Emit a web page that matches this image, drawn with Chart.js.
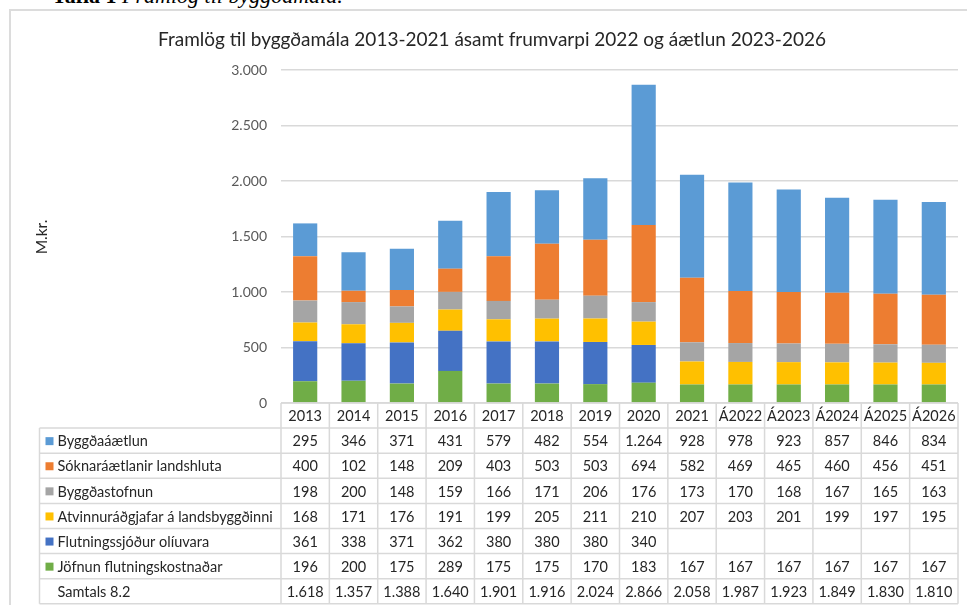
<!DOCTYPE html>
<html lang="is">
<head>
<meta charset="utf-8">
<title>Framlög til byggðamála</title>
<script src="https://cdn.jsdelivr.net/npm/chart.js@4.4.1/dist/chart.umd.min.js"></script>
<style>
    html, body { margin: 0; padding: 0; background: #fff; overflow: hidden; }
    #wrap { position: relative; width: 967px; height: 605px; }
    #caption {
        position: absolute; left: 52px; top: -15px;
        font-family: "Liberation Serif", serif; font-size: 22px; line-height: 22px;
        color: #000; white-space: nowrap;
    }
    #caption b { font-weight: bold; }
    #caption i { font-style: italic; }
    #frame {
        position: absolute; left: 9px; top: 9px; right: -10px; bottom: -10px;
        border: 2px solid #dcdcdc;
    }
    #myChart { position: absolute; left: 0; top: 0; }
</style>
</head>
<body>
<div id="wrap">
    <div id="caption"><b>Tafla 1</b> <i>Framlög til byggðamála.</i></div>
    <div id="frame"></div>
    <canvas id="myChart" width="967" height="605"></canvas>
</div>
<script>
// gögn lesin af myndinni
const categories = ['2013', '2014', '2015', '2016', '2017', '2018', '2019', '2020', '2021', 'Á2022', 'Á2023', 'Á2024', 'Á2025', 'Á2026'];
const byggdaaaetlun = [295, 346, 371, 431, 579, 482, 554, 1264, 928, 978, 923, 857, 846, 834];
const soknaraaetlanir = [400, 102, 148, 209, 403, 503, 503, 694, 582, 469, 465, 460, 456, 451];
const byggdastofnun = [198, 200, 148, 159, 166, 171, 206, 176, 173, 170, 168, 167, 165, 163];
const atvinnuradgjafar = [168, 171, 176, 191, 199, 205, 211, 210, 207, 203, 201, 199, 197, 195];
const flutningssjodur = [361, 338, 371, 362, 380, 380, 380, 340, null, null, null, null, null, null];
const jofnun = [196, 200, 175, 289, 175, 175, 170, 183, 167, 167, 167, 167, 167, 167];
const samtals = [1618, 1357, 1388, 1640, 1901, 1916, 2024, 2866, 2058, 1987, 1923, 1849, 1830, 1810];
const yTicks = [0, 500, 1000, 1500, 2000, 2500, 3000];

const chartTitle = 'Framlög til byggðamála 2013-2021 ásamt frumvarpi 2022 og áætlun 2023-2026';
const yLabel = 'M.kr.';
const totalLabel = 'Samtals 8.2';

const FONT = 'Lato, "Noto Sans", sans-serif';
const TEXT = '#262626';

// íslenskur þúsundapunktur
function fmt(n) {
    if (n === null || n === undefined) return '';
    return String(n).replace(/\B(?=(\d{3})+(?!\d))/g, '.');
}

// röð í stafla: neðst fyrst
const series = [
    { label: 'Jöfnun flutningskostnaðar', data: jofnun, color: '#70AD47' },
    { label: 'Flutningssjóður olíuvara', data: flutningssjodur, color: '#4472C4' },
    { label: 'Atvinnuráðgjafar á landsbyggðinni', data: atvinnuradgjafar, color: '#FFC000' },
    { label: 'Byggðastofnun', data: byggdastofnun, color: '#A5A5A5' },
    { label: 'Sóknaráætlanir landshluta', data: soknaraaetlanir, color: '#ED7D31' },
    { label: 'Byggðaáætlun', data: byggdaaaetlun, color: '#5B9BD5' }
];

// titill, ás-texti og gagnatafla undir myndinni
const tablePlugin = {
    id: 'dataTable',
    afterDraw(chart) {
        const ctx = chart.ctx;
        const x = chart.scales.x;
        const y = chart.scales.y;
        const area = chart.chartArea;
        const step = x.getPixelForValue(1) - x.getPixelForValue(0);
        const half = step / 2;
        const top = y.getPixelForValue(0);
        const rowH = 25.1;
        const labelLeft = 39.5;
        const left = area.left;
        const right = area.right;
        const rows = series.slice().reverse();
        const nRows = rows.length + 1;
        const bottom = top + rowH * (nRows + 1);

        ctx.save();

        // titill
        ctx.fillStyle = TEXT;
        ctx.font = '19px ' + FONT;
        ctx.textAlign = 'center';
        ctx.textBaseline = 'middle';
        ctx.fillText(chartTitle, 492, 40);

        // M.kr.
        ctx.save();
        ctx.translate(42, 237);
        ctx.rotate(-Math.PI / 2);
        ctx.font = '15.5px ' + FONT;
        ctx.fillStyle = TEXT;
        ctx.fillText(yLabel, 0, 0);
        ctx.restore();

        // töflulínur
        ctx.strokeStyle = '#d9d9d9';
        ctx.lineWidth = 1.5;
        ctx.beginPath();
        for (let r = 0; r <= nRows + 1; r++) {
            const yy = top + r * rowH;
            ctx.moveTo(r === 0 ? left : labelLeft, yy);
            ctx.lineTo(right, yy);
        }
        ctx.moveTo(labelLeft, top + rowH);
        ctx.lineTo(labelLeft, bottom);
        for (let i = 0; i <= categories.length; i++) {
            const xx = i < categories.length ? x.getPixelForValue(i) - half : x.getPixelForValue(i - 1) + half;
            ctx.moveTo(xx, top);
            ctx.lineTo(xx, bottom);
        }
        ctx.stroke();

        // texti
        ctx.fillStyle = TEXT;
        ctx.font = '14.5px ' + FONT;
        ctx.textBaseline = 'middle';
        ctx.textAlign = 'center';
        categories.forEach((c, i) => {
            ctx.fillText(c, x.getPixelForValue(i), top + rowH / 2 + 1);
        });

        rows.forEach((s, r) => {
            const cy = top + rowH * (r + 1) + rowH / 2 + 1;
            ctx.fillStyle = s.color;
            ctx.fillRect(labelLeft + 6, cy - 4.5, 8, 8);
            ctx.fillStyle = TEXT;
            ctx.textAlign = 'left';
            ctx.fillText(s.label, labelLeft + 18, cy);
            ctx.textAlign = 'center';
            s.data.forEach((v, i) => ctx.fillText(fmt(v), x.getPixelForValue(i), cy));
        });

        const ty = top + rowH * nRows + rowH / 2 + 1;
        ctx.textAlign = 'left';
        ctx.fillText(totalLabel, labelLeft + 18, ty);
        ctx.textAlign = 'center';
        samtals.forEach((v, i) => ctx.fillText(fmt(v), x.getPixelForValue(i), ty));

        ctx.restore();
    }
};

document.addEventListener('DOMContentLoaded', () => {
    const ctx = document.getElementById('myChart').getContext('2d');

    new Chart(ctx, {
        type: 'bar',
        data: {
            labels: categories,
            datasets: series.map(s => ({
                label: s.label,
                data: s.data,
                backgroundColor: s.color,
                borderWidth: 0,
                barPercentage: 0.5,
                categoryPercentage: 1
            }))
        },
        options: {
            responsive: false,
            animation: false,
            layout: { padding: { left: 0, right: 9, top: 70, bottom: 202 } },
            plugins: {
                legend: { display: false },
                title: { display: false },
                tooltip: { enabled: false }
            },
            scales: {
                x: {
                    stacked: true,
                    display: false
                },
                y: {
                    stacked: true,
                    min: 0,
                    max: 3000,
                    afterFit: (scale) => { scale.width = 281; },
                    afterBuildTicks: (scale) => { scale.ticks = yTicks.map(v => ({ value: v })); },
                    border: { display: false },
                    grid: { color: '#d9d9d9', lineWidth: 1.5, drawTicks: false },
                    ticks: {
                        color: '#595959',
                        padding: 14,
                        font: { family: FONT, size: 14 },
                        callback: (value) => fmt(value)
                    }
                }
            }
        },
        plugins: [tablePlugin]
    });
});
</script>
</body>
</html>
